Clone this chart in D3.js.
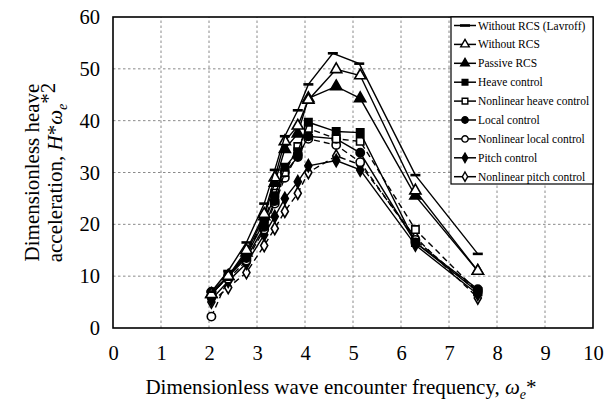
<!DOCTYPE html>
<html>
<head>
<meta charset="utf-8">
<script src="https://cdn.jsdelivr.net/npm/d3@7"></script>
<style>
  html, body { margin: 0; padding: 0; background: #fff; }
</style>
</head>
<body>
<svg id="chart" width="606" height="405" font-family="'Liberation Serif', 'Times New Roman', serif"></svg>
<script>
const SERIF = "'Liberation Serif', 'Times New Roman', serif";

// Encounter frequencies (shared by the RCS / control cases)
const freq = [2.05, 2.4, 2.78, 3.15, 3.37, 3.58, 3.85, 4.07, 4.65, 5.15, 6.3, 7.6];
// Lavroff reference case uses slightly different frequencies near the peak
const freqLavroff = [2.05, 2.4, 2.78, 3.15, 3.37, 3.58, 3.85, 4.07, 4.58, 5.13, 6.3, 7.6];

const withoutRcsLavroff = [7, 11, 16.5, 24, 30.5, 37, 42, 47, 53, 51, 29.5, 14.3];
const withoutRcs        = [6.5, 10, 15, 22, 29, 36, 39, 44, 49.9, 48.7, 26.5, 11];
const passiveRcs        = [6.5, 10, 14.5, 21.5, 28, 34.5, 37.5, 44.3, 46.6, 44.3, 25.5, 11];
const heaveControl      = [6.5, 10, 14, 20.5, 25.5, 31, 34, 39.7, 37.9, 37.7, 16.5, 7];
const nlHeaveControl    = [6.5, 10, 14, 21, 26, 30, 35, 38.5, 36.5, 36, 19, 7];
const localControl      = [7, 10, 13.5, 19.5, 24.5, 30, 33, 37, 36.5, 33.8, 16.5, 7.5];
const nlLocalControl    = [2.2, 9.5, 13, 19, 24, 29, 33.5, 36.5, 35.3, 32, 17, 7];
const pitchControl      = [5.5, 9, 12.5, 18, 21.5, 25, 28.2, 31.3, 32.3, 30.5, 16, 6.5];
const nlPitchControl    = [5, 7.8, 10.7, 15.9, 19.2, 22.5, 26, 30, 33.2, 31.5, 17.5, 5.8];

const xTicks = [0, 1, 2, 3, 4, 5, 6, 7, 8, 9, 10];
const yTicks = [0, 10, 20, 30, 40, 50, 60];

const seriesNames = [
  "Without RCS (Lavroff)", "Without RCS", "Passive RCS", "Heave control",
  "Nonlinear heave control", "Local control", "Nonlinear local control",
  "Pitch control", "Nonlinear pitch control"
];

const series = [
  { name: seriesNames[0], x: freqLavroff, y: withoutRcsLavroff, marker: "dash",     fill: true,  dashed: false },
  { name: seriesNames[1], x: freq, y: withoutRcs,     marker: "triangle", fill: false, dashed: false },
  { name: seriesNames[2], x: freq, y: passiveRcs,     marker: "triangle", fill: true,  dashed: false },
  { name: seriesNames[3], x: freq, y: heaveControl,   marker: "square",   fill: true,  dashed: false },
  { name: seriesNames[4], x: freq, y: nlHeaveControl, marker: "square",   fill: false, dashed: true },
  { name: seriesNames[5], x: freq, y: localControl,   marker: "circle",   fill: true,  dashed: false },
  { name: seriesNames[6], x: freq, y: nlLocalControl, marker: "circle",   fill: false, dashed: true },
  { name: seriesNames[7], x: freq, y: pitchControl,   marker: "diamond",  fill: true,  dashed: false },
  { name: seriesNames[8], x: freq, y: nlPitchControl, marker: "diamond",  fill: false, dashed: true }
];

const svg = d3.select("#chart");
const margin = { left: 113, right: 13, top: 17, bottom: 77 };
const W = 606, H = 405;
const x = d3.scaleLinear().domain([0, 10]).range([margin.left, W - margin.right]);
const y = d3.scaleLinear().domain([0, 60]).range([H - margin.bottom, margin.top]);

// grid
const grid = svg.append("g");
grid.selectAll("line.gx").data(xTicks.slice(1, -1)).join("line")
  .attr("x1", d => x(d)).attr("x2", d => x(d))
  .attr("y1", y(0)).attr("y2", y(60))
  .attr("stroke", "#8a8a8a").attr("stroke-width", 1).attr("stroke-dasharray", "2.5,2.5");
grid.selectAll("line.gy").data(yTicks.slice(1, -1)).join("line")
  .attr("x1", x(0)).attr("x2", x(10))
  .attr("y1", d => y(d)).attr("y2", d => y(d))
  .attr("stroke", "#8a8a8a").attr("stroke-width", 1).attr("stroke-dasharray", "2.5,2.5");

// axes (tick labels only)
const xAxis = d3.axisBottom(x).tickValues(xTicks).tickSize(0).tickPadding(17).tickFormat(d3.format("d"));
const gx = svg.append("g").attr("transform", `translate(0,${y(0)})`).call(xAxis);
gx.attr("font-family", SERIF).attr("font-size", 20.5);
gx.select(".domain").remove();
gx.selectAll("text").attr("fill", "#000");

const yAxis = d3.axisLeft(y).tickValues(yTicks).tickSize(0).tickPadding(13).tickFormat(d3.format("d"));
const gy = svg.append("g").attr("transform", `translate(${x(0)},0)`).call(yAxis);
gy.attr("font-family", SERIF).attr("font-size", 20.5);
gy.select(".domain").remove();
gy.selectAll("text").attr("fill", "#000");

// marker symbols
function markerPath(type, size) {
  switch (type) {
    case "triangle": return d3.symbol(d3.symbolTriangle, size)();
    case "square":   return d3.symbol(d3.symbolSquare, size)();
    case "circle":   return d3.symbol(d3.symbolCircle, size)();
    case "diamond":  return d3.symbol(d3.symbolDiamond, size * 0.8)();
    default: return null;
  }
}

function drawMarker(g, s, cx, cy) {
  if (s.marker === "dash") {
    g.append("line").attr("x1", cx - 5).attr("x2", cx + 5).attr("y1", cy).attr("y2", cy)
      .attr("stroke", "#000").attr("stroke-width", 2.6);
  } else {
    g.append("path").attr("d", markerPath(s.marker, 54))
      .attr("transform", `translate(${cx},${cy})`)
      .attr("fill", s.fill ? "#000" : "#fff")
      .attr("stroke", "#000").attr("stroke-width", 1.6);
  }
}

const line = d3.line().x(d => x(d[0])).y(d => y(d[1]));
const plot = svg.append("g");
// draw from back to front so the reference case stays on top
series.slice().reverse().forEach(s => {
  const pts = s.x.map((v, i) => [v, s.y[i]]);
  const g = plot.append("g");
  g.append("path").attr("d", line(pts)).attr("fill", "none")
    .attr("stroke", "#000").attr("stroke-width", 1.4)
    .attr("stroke-dasharray", s.dashed ? "6,4" : null);
  pts.forEach(p => drawMarker(g, s, x(p[0]), y(p[1])));
});

// plot frame
svg.append("rect").attr("x", x(0)).attr("y", y(60))
  .attr("width", x(10) - x(0)).attr("height", y(0) - y(60))
  .attr("fill", "none").attr("stroke", "#000").attr("stroke-width", 1.6);

// legend
const lg = svg.append("g").attr("font-family", SERIF);
const lx0 = 451, ly0 = y(60), lw = x(10) - lx0, lh = 167;
lg.append("rect").attr("x", lx0).attr("y", ly0).attr("width", lw).attr("height", lh)
  .attr("fill", "#fff").attr("stroke", "#000").attr("stroke-width", 1.2);
series.forEach((s, i) => {
  const cy = ly0 + 8.5 + i * 18.9;
  const row = lg.append("g");
  row.append("line").attr("x1", lx0 + 3).attr("x2", lx0 + 25).attr("y1", cy).attr("y2", cy)
    .attr("stroke", "#000").attr("stroke-width", 1.5);
  if (s.marker === "dash") {
    row.append("line").attr("x1", lx0 + 9).attr("x2", lx0 + 19).attr("y1", cy).attr("y2", cy)
      .attr("stroke", "#000").attr("stroke-width", 2.6);
  } else {
    row.append("path").attr("d", markerPath(s.marker, 32))
      .attr("transform", `translate(${lx0 + 14},${cy})`)
      .attr("fill", s.fill ? "#000" : "#fff")
      .attr("stroke", "#000").attr("stroke-width", 1.4);
  }
  row.append("text").attr("x", lx0 + 27).attr("y", cy).attr("dy", "0.35em")
    .attr("font-size", 11.5).attr("fill", "#000").text(s.name);
});

// axis titles
svg.append("text").attr("x", (x(0) + x(10)) / 2 - 12).attr("y", 394)
  .attr("text-anchor", "middle").attr("font-size", 21).attr("font-family", SERIF)
  .call(t => {
    t.append("tspan").text("Dimensionless wave encounter frequency, ");
    t.append("tspan").attr("font-style", "italic").text("ω");
    t.append("tspan").attr("font-style", "italic").attr("font-size", 14).attr("dy", 5).text("e");
    t.append("tspan").attr("dy", -5).text("*");
  });

const yt = svg.append("g").attr("transform", `translate(0,${(y(0) + y(60)) / 2}) rotate(-90)`)
  .attr("font-family", SERIF);
yt.append("text").attr("x", 0).attr("y", 39).attr("text-anchor", "middle")
  .attr("font-size", 21).text("Dimensionless heave");
yt.append("text").attr("x", 0).attr("y", 62).attr("text-anchor", "middle")
  .attr("font-size", 21)
  .call(t => {
    t.append("tspan").text("acceleration, ");
    t.append("tspan").attr("font-style", "italic").text("H");
    t.append("tspan").text("*");
    t.append("tspan").attr("font-style", "italic").text("ω");
    t.append("tspan").attr("font-style", "italic").attr("font-size", 14).attr("dy", 5).text("e");
    t.append("tspan").attr("dy", -12).text("*2");
  });
</script>
</body>
</html>
